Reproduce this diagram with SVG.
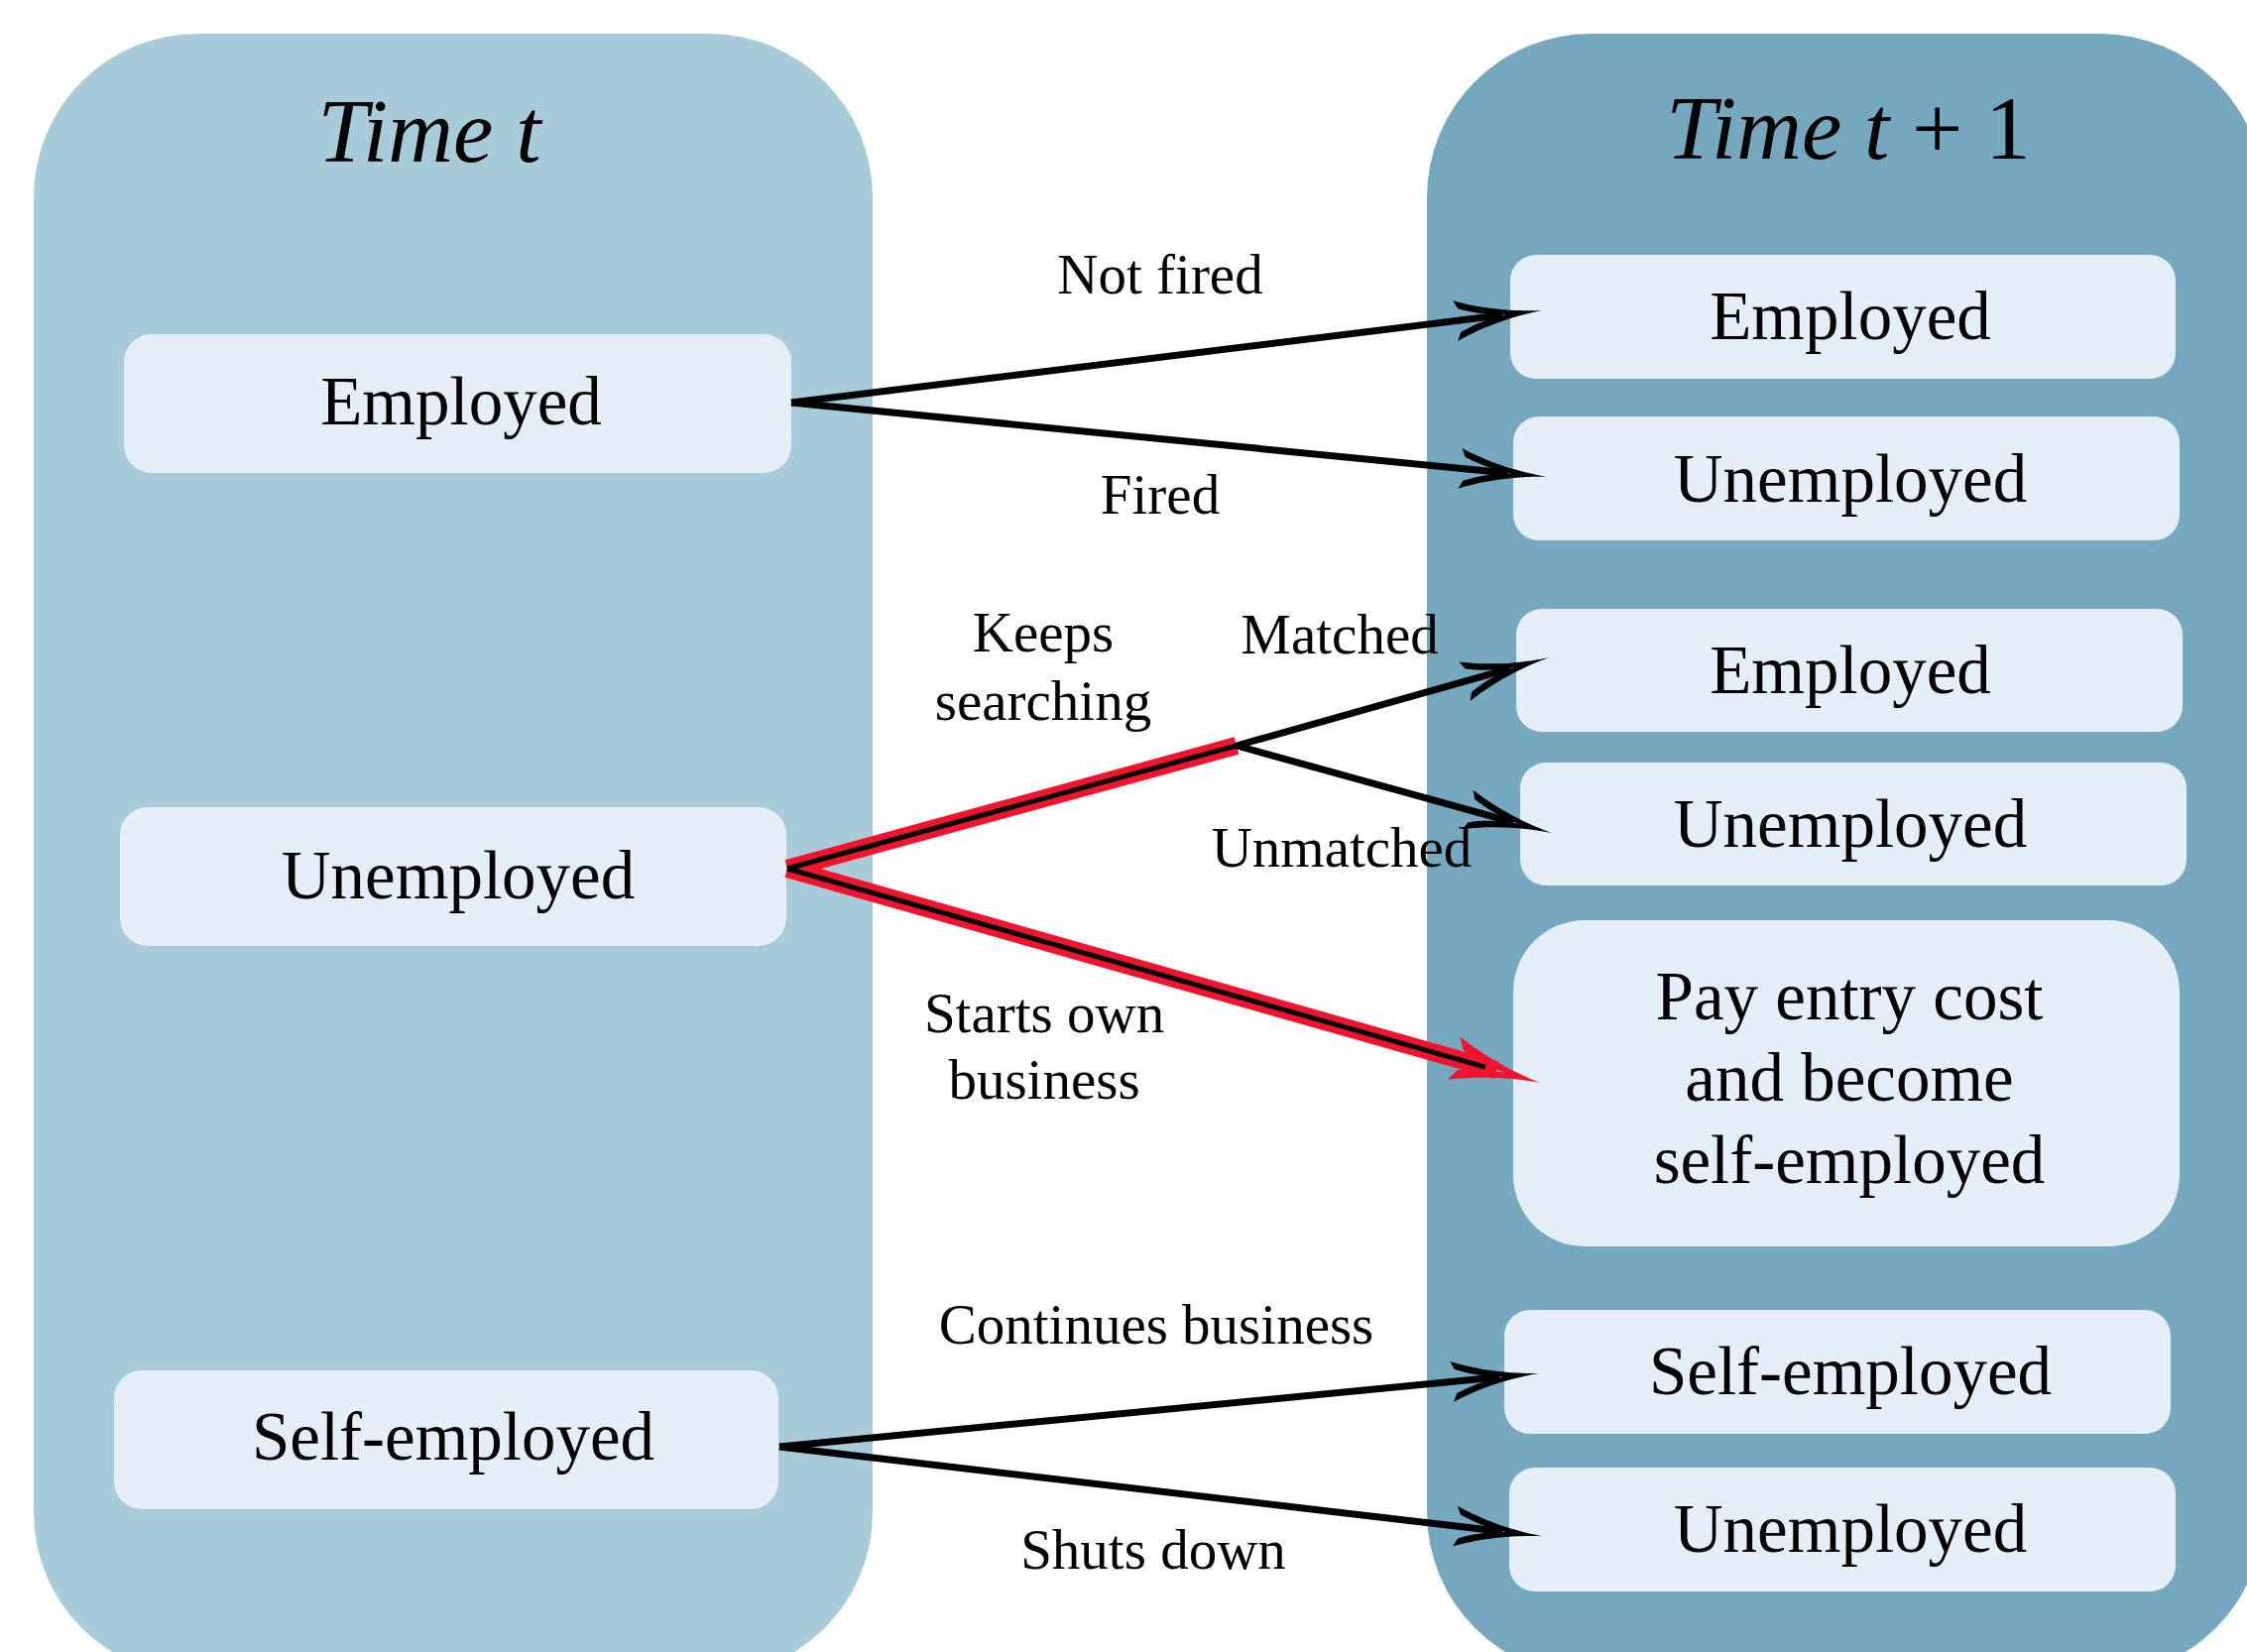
<svg xmlns="http://www.w3.org/2000/svg" width="2266" height="1666" viewBox="0 0 2266 1666">
  <defs>
    <style>
      .panel-t  { fill: #a7cbd9; }
      .panel-t1 { fill: #75a8bf; }
      .state    { fill: #e5eef7; }
      .title    { font-family: "Liberation Serif", "Times New Roman", serif; font-size: 91px; fill: #000; text-anchor: middle; }
      .it       { font-style: italic; }
      .node-txt { font-family: "Liberation Serif", "Times New Roman", serif; font-size: 69px; fill: #000; text-anchor: middle; }
      .lbl      { font-family: "Liberation Serif", "Times New Roman", serif; font-size: 57px; fill: #000; text-anchor: middle; }
      .edge     { fill: none; stroke: #000; stroke-width: 7; stroke-linecap: butt; }
      .hl       { fill: none; stroke: #f0142f; stroke-width: 18; stroke-linecap: butt; }
      .hl-core  { fill: none; stroke: #000; stroke-width: 5; stroke-linecap: butt; }
    </style>
    <!-- curved barb arrowhead; origin sits at the line end, tip 40px further on -->
    <marker id="barb" markerUnits="userSpaceOnUse" orient="auto" refX="0" refY="0"
            markerWidth="200" markerHeight="200" viewBox="-100 -100 200 200" overflow="visible">
      <path d="M 40,0 C 20,-1.4 -15,-6.5 -48,-20.5 L -44,-12 C -25,-4 -10,-1.5 4,0 C -10,1.5 -25,4 -44,12 L -48,20.5 C -15,6.5 20,1.4 40,0 Z" fill="#000"/>
    </marker>
    <!-- heavier red barb for the highlighted path; tip 45px past the line end -->
    <marker id="barb-red" markerUnits="userSpaceOnUse" orient="auto" refX="0" refY="0"
            markerWidth="200" markerHeight="200" viewBox="-100 -100 200 200" overflow="visible">
      <path d="M 45,0 C 25,-1.8 -10,-8 -45,-22.5 L -38,-10.5 C -20,-4 -5,-1.5 9,0 C -5,1.5 -20,4 -38,10.5 L -45,22.5 C -10,8 25,1.8 45,0 Z" fill="#f0142f"/>
    </marker>
  </defs>

  <rect width="2266" height="1666" fill="#ffffff"/>

  <!-- period containers -->
  <g id="period-t">
    <rect class="panel-t" x="34" y="34" width="846" height="1656" rx="165" ry="165"/>
    <text class="title" x="433" y="163"><tspan class="it">Time t</tspan></text>
  </g>
  <g id="period-t1">
    <rect class="panel-t1" x="1439" y="34" width="844" height="1656" rx="165" ry="165"/>
    <text class="title" x="1864" y="160"><tspan class="it">Time t</tspan><tspan> + 1</tspan></text>
  </g>

  <!-- states at time t -->
  <g id="t-employed">
    <rect class="state" x="125" y="337" width="673" height="140" rx="28"/>
    <text class="node-txt" x="465" y="428">Employed</text>
  </g>
  <g id="t-unemployed">
    <rect class="state" x="121" y="814" width="672" height="140" rx="28"/>
    <text class="node-txt" x="462" y="906">Unemployed</text>
  </g>
  <g id="t-selfemployed">
    <rect class="state" x="115" y="1382" width="670" height="140" rx="28"/>
    <text class="node-txt" x="457" y="1472">Self-employed</text>
  </g>

  <!-- states at time t+1 -->
  <g id="t1-employed-a">
    <rect class="state" x="1523" y="257" width="671" height="125" rx="26"/>
    <text class="node-txt" x="1866" y="342">Employed</text>
  </g>
  <g id="t1-unemployed-a">
    <rect class="state" x="1526" y="420" width="672" height="125" rx="26"/>
    <text class="node-txt" x="1866" y="506">Unemployed</text>
  </g>
  <g id="t1-employed-b">
    <rect class="state" x="1529" y="614" width="672" height="124" rx="26"/>
    <text class="node-txt" x="1866" y="699">Employed</text>
  </g>
  <g id="t1-unemployed-b">
    <rect class="state" x="1533" y="769" width="672" height="124" rx="26"/>
    <text class="node-txt" x="1866" y="854">Unemployed</text>
  </g>
  <g id="t1-entry">
    <rect class="state" x="1526" y="928" width="672" height="329" rx="72"/>
    <text class="node-txt" x="1865" y="1028">Pay entry cost</text>
    <text class="node-txt" x="1865" y="1110">and become</text>
    <text class="node-txt" x="1865" y="1193">self-employed</text>
  </g>
  <g id="t1-selfemployed">
    <rect class="state" x="1517" y="1321" width="672" height="125" rx="26"/>
    <text class="node-txt" x="1866" y="1406">Self-employed</text>
  </g>
  <g id="t1-unemployed-c">
    <rect class="state" x="1522" y="1480" width="672" height="125" rx="26"/>
    <text class="node-txt" x="1866" y="1565">Unemployed</text>
  </g>

  <!-- transitions -->
  <g id="connectors">
    <!-- highlighted path from unemployment -->
    <line class="hl" x1="794" y1="876" x2="1247" y2="752"/>
    <line class="hl" x1="794" y1="876" x2="1509.4" y2="1079.4" marker-end="url(#barb-red)"/>
    <line class="hl-core" x1="794" y1="876" x2="1247" y2="752"/>
    <line class="hl-core" x1="794" y1="876" x2="1497.9" y2="1076.1"/>

    <!-- employed at t -->
    <line class="edge" x1="798" y1="406" x2="1515.3" y2="317.8" marker-end="url(#barb)"/>
    <line class="edge" x1="798" y1="406" x2="1520.2" y2="477.0" marker-end="url(#barb)"/>

    <!-- job search outcome -->
    <line class="edge" x1="1247" y1="752" x2="1523.2" y2="674.2" marker-end="url(#barb)"/>
    <line class="edge" x1="1247" y1="752" x2="1526.4" y2="829.3" marker-end="url(#barb)"/>

    <!-- self-employed at t -->
    <line class="edge" x1="786" y1="1459" x2="1511.9" y2="1388.8" marker-end="url(#barb)"/>
    <line class="edge" x1="786" y1="1459" x2="1515.2" y2="1544.6" marker-end="url(#barb)"/>

    <!-- edge labels -->
    <text class="lbl" x="1170" y="296">Not fired</text>
    <text class="lbl" x="1170" y="518">Fired</text>
    <text class="lbl" x="1052" y="657">Keeps</text>
    <text class="lbl" x="1052" y="726">searching</text>
    <text class="lbl" x="1351" y="659">Matched</text>
    <text class="lbl" x="1353" y="874">Unmatched</text>
    <text class="lbl" x="1053" y="1041">Starts own</text>
    <text class="lbl" x="1053" y="1108">business</text>
    <text class="lbl" x="1166" y="1355">Continues business</text>
    <text class="lbl" x="1163" y="1582">Shuts down</text>
  </g>
</svg>
